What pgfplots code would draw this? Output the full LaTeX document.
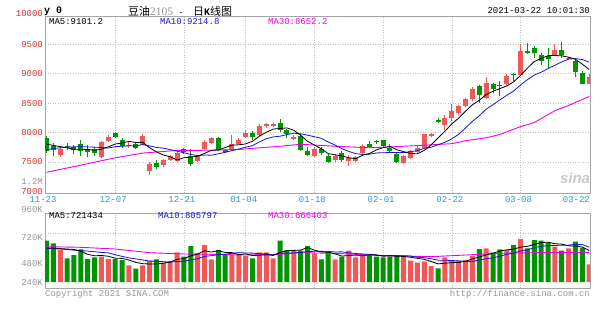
\documentclass[border=0pt]{standalone}
\usepackage{fontspec}
\usepackage{pgfplots}
\usepackage{pgfplotstable}
\pgfplotsset{compat=1.18}
\setmainfont{Liberation Sans}
\newfontfamily\mono{Liberation Mono}
\newfontfamily\cjk{Noto Sans CJK SC}
\newfontfamily\serif{Liberation Serif}
\newcommand{\tf}{\mono\fontsize{9}{10}\selectfont}
\definecolor{cred}{RGB}{240,88,88}
\definecolor{cgreen}{RGB}{0,148,0}
\definecolor{framegray}{RGB}{165,165,165}
\definecolor{gridgray}{RGB}{195,195,195}
\definecolor{pricered}{RGB}{215,45,45}
\definecolor{xblue}{RGB}{50,150,205}
\definecolor{volgray}{RGB}{150,150,150}
\definecolor{ma10}{RGB}{20,20,210}
\definecolor{ma30}{RGB}{235,0,235}

\pgfplotstableread{
i O H L C
2 7625 7756 7585 7720
8 7585 7850 7570 7841
9 7860 7950 7840 7920
12 7766 7830 7740 7795
14 7795 7966 7780 7937
15 7340 7494 7283 7466
17 7454 7550 7420 7528
18 7540 7620 7520 7596
19 7510 7710 7490 7653
22 7510 7620 7500 7596
23 7722 7870 7710 7841
24 7824 7930 7810 7910
27 7710 7950 7680 7807
28 7812 7900 7800 7870
29 7926 8050 7910 7983
31 7950 8150 7930 8107
32 8107 8165 8080 8136
33 8118 8160 8090 8136
36 7895 7960 7870 7925
39 7608 7750 7585 7722
42 7530 7630 7500 7608
44 7510 7625 7426 7568
45 7510 7600 7490 7580
46 7653 7800 7640 7778
52 7483 7610 7470 7596
53 7568 7710 7550 7682
54 7665 7770 7640 7740
55 7740 7980 7720 7966
56 7945 7990 7920 7966
58 8120 8290 8050 8250
59 8250 8480 8200 8363
60 8324 8460 8300 8449
61 8449 8590 8430 8563
62 8575 8780 8540 8734
64 8592 8950 8575 8848
67 8820 8990 8800 8960
69 8980 9500 8960 9390
74 9320 9500 9300 9400
76 9245 9280 9230 9262
79 8830 9000 8820 8945
}\upT

\pgfplotstableread{
i O H L C
0 7910 7940 7655 7680
1 7778 7824 7596 7698
3 7778 7824 7710 7756
4 7756 7795 7640 7710
5 7807 7869 7596 7693
6 7722 7790 7590 7676
7 7722 7760 7600 7654
10 7983 8010 7910 7926
11 7880 7910 7740 7766
13 7807 7830 7720 7740
16 7483 7528 7380 7415
20 7722 7740 7640 7665
21 7596 7722 7426 7471
25 7910 7920 7680 7698
26 7700 7720 7650 7670
30 7994 8030 7880 7926
34 8153 8222 8005 8040
35 8040 8060 7900 7966
37 7937 7966 7680 7710
38 7680 7750 7600 7625
40 7722 7750 7610 7653
41 7596 7630 7480 7494
43 7653 7680 7500 7528
47 7807 7850 7740 7756
48 7860 7880 7800 7835
49 7864 7880 7750 7766
50 7740 7800 7650 7680
51 7642 7670 7480 7494
57 8205 8240 8160 8185
63 8790 8800 8506 8630
65 8820 8850 8680 8734
66 8815 8875 8620 8790
68 9000 9020 8875 8980
70 9390 9530 9330 9345
71 9435 9472 9275 9360
72 9320 9360 9150 9217
73 9300 9445 9100 9245
75 9400 9540 9275 9320
77 9217 9230 8945 9036
78 9020 9050 8820 8830
}\downT

\pgfplotstableread{
i m5 m10 v5 v10
0 7800 7710 750 740
1 7780 7725 745 735
2 7760 7740 735 725
3 7740 7750 725 715
4 7713 7755 716 700
5 7715 7760 678 690
6 7711 7755 609 680
7 7698 7750 577 665
8 7715 7745 584 650
9 7757 7735 566 641
10 7803 7759 524 601
11 7821 7766 519 564
12 7850 7774 484 530
13 7829 7772 431 508
14 7833 7795 403 485
15 7741 7772 396 460
16 7671 7746 399 459
17 7617 7733 411 447
18 7588 7709 441 436
19 7532 7682 499 451
20 7571 7656 516 456
21 7583 7627 575 487
22 7596 7607 616 513
23 7645 7617 689 565
24 7697 7614 659 579
25 7703 7637 688 602
26 7743 7663 651 613
27 7785 7691 647 632
28 7791 7718 603 646
29 7806 7751 618 638
30 7851 7777 581 635
31 7939 7841 590 621
32 8004 7895 599 623
33 8058 7924 584 594
34 8069 7937 651 635
35 8077 7964 688 635
36 8038 7988 695 643
37 7952 7978 702 651
38 7850 7954 757 670
39 7787 7928 701 676
40 7724 7901 660 674
41 7641 7839 656 675
42 7620 7786 618 660
43 7601 7726 571 664
44 7570 7678 582 642
45 7556 7640 591 626
46 7612 7627 579 618
47 7642 7631 598 608
48 7703 7652 598 585
49 7743 7656 569 576
50 7763 7659 572 582
51 7706 7659 569 574
52 7674 7658 562 580
53 7644 7675 544 571
54 7638 7692 520 545
55 7696 7731 498 535
56 7790 7750 450 510
57 7909 7793 399 480
58 8022 7833 414 479
59 8147 7893 425 473
60 8244 7970 430 464
61 8363 8077 456 453
62 8472 8190 510 455
63 8548 8285 547 480
64 8645 8396 598 512
65 8702 8473 634 532
66 8747 8555 681 568
67 8792 8632 707 609
68 8862 8705 725 636
69 8971 8808 766 682
70 9093 8897 785 709
71 9207 8977 826 753
72 9258 9025 867 787
73 9307 9087 877 801
74 9309 9142 843 804
75 9304 9201 833 809
76 9281 9248 796 811
77 9245 9256 792 829
78 9162 9241 770 823
79 9071 9196 692 768
}\maT

\pgfplotstableread{
i V
2 704
8 557
9 506
12 367
14 367
15 469
17 425
18 447
19 653
22 631
23 814
24 499
27 609
28 594
29 572
31 653
32 653
33 521
36 689
39 631
42 499
44 689
45 543
46 609
52 557
53 469
54 425
55 447
56 352
58 543
59 484
60 469
61 484
62 572
64 741
67 704
69 946
74 777
76 741
79 389
}\volUp

\pgfplotstableread{
i V
0 909
1 851
3 521
4 594
5 719
6 506
7 543
10 506
11 484
13 293
16 499
20 557
21 792
25 704
26 609
30 521
34 909
35 704
37 689
38 792
40 499
41 667
43 557
47 594
48 557
49 543
50 557
51 594
57 301
63 726
65 645
66 719
68 814
70 741
71 924
72 909
73 865
75 689
77 887
78 755
}\volDown

\pgfplotsset{sinabase/.style={
  scale only axis, width=545.1bp,
  xmin=-0.22, xmax=79.13,
  axis line style={draw=framegray, line width=0.8bp},
  tick style={draw=none}, major tick length=0pt,
  grid style={gridgray, dash pattern=on 1bp off 1.5bp, line width=0.6bp},
  xmajorgrids, ymajorgrids,
  xtick={10,20,29,39,49,59,69},
  clip mode=individual,
  yticklabel style={anchor=east, inner sep=0pt, xshift=-2bp},
  extra y tick style={grid=none},
},
candle/.style 2 args={draw=none, fill=none, mark=none,
  error bars/.cd, y dir=plus, y explicit, error mark=none,
  error bar style={line width=#1, line cap=butt, draw=#2}},
}

\begin{document}
\begin{tikzpicture}[x=1bp,y=1bp]
\path[use as bounding box] (0,0) rectangle (600,327);

% ---------- price panel ----------
\begin{axis}[sinabase,
  at={(45bp,133.7bp)}, anchor=south west, height=176.6bp,
  ymin=6966, ymax=9969,
  ytick={7500,8000,8500,9000,9500},
  yticklabels={7500,8000,8500,9000,9500},
  extra y ticks={7000}, extra y tick labels={7000},
  yticklabel style={font=\tf, text=pricered},
  xticklabels={12-07,12-21,01-04,01-18,02-01,02-22,03-08},
  xticklabel style={font=\tf, text=xblue, anchor=north, inner sep=0pt, yshift=-3bp, xshift=-2bp},
]
% wicks
\addplot[candle={1bp}{cred}]
  table[x=i, y=L, y error plus expr=\thisrow{H}-\thisrow{L}] {\upT};
\addplot[candle={1bp}{cgreen}]
  table[x=i, y=L, y error plus expr=\thisrow{H}-\thisrow{L}] {\downT};
% bodies
\addplot[candle={5bp}{cred}]
  table[x=i, y=O, y error plus expr=\thisrow{C}-\thisrow{O}] {\upT};
\addplot[candle={5bp}{cgreen}]
  table[x=i, y=C, y error plus expr=\thisrow{O}-\thisrow{C}] {\downT};
% moving averages
\addplot[ma30, line width=0.9bp, mark=none] coordinates {
(0,7323) (5,7445) (10,7570) (14,7650) (19,7695) (24,7698) (28,7712) (34,7766) (37,7800)
(42,7766) (47,7740) (51,7760) (56,7790) (59,7810) (61,7860) (64,7910) (66,7966) (69,8100)
(71,8170) (74,8370) (76,8460) (79,8614)};
\addplot[ma10, line width=0.8bp, mark=none] table[x=i, y=m10] {\maT};
\addplot[black, line width=0.8bp, mark=none] table[x=i, y=m5] {\maT};
\end{axis}

% ---------- volume panel ----------
\begin{axis}[sinabase,
  at={(45bp,39bp)}, anchor=south west, height=75bp,
  ymin=-132, ymax=1518,
  ytick={462,1071}, yticklabels={},
  extra y ticks={-15,396,975}, extra y tick labels={240K,480K,720K},
  yticklabel style={font=\tf, text=volgray},
  xticklabels={},
]
\addplot[ybar, bar width=5bp, bar shift=0pt, fill=cred, draw=none] table[x=i, y=V] {\volUp};
\addplot[ybar, bar width=5bp, bar shift=0pt, fill=cgreen, draw=none] table[x=i, y=V] {\volDown};
\addplot[ma30, line width=0.9bp, mark=none] coordinates {
(0,777) (5,763) (10,726) (15,645) (20,616) (24,609) (29,594) (34,609) (37,645) (42,631)
(47,594) (52,572) (56,557) (61,594) (66,631) (71,645) (79,653)};
\addplot[ma10, line width=0.8bp, mark=none] table[x=i, y=v10] {\maT};
\addplot[black, line width=0.8bp, mark=none] table[x=i, y=v5] {\maT};
\end{axis}

% ---------- texts ----------
\node[anchor=west, inner sep=0pt] at (44,316) {\mono\bfseries\fontsize{10}{10}\selectfont y 0};
\node[anchor=west, inner sep=0pt] at (128,316) {{\cjk\fontsize{11}{11}\selectfont 豆油}{\serif\fontsize{11.5}{11}\selectfont\color{volgray}2105}{\tf\ -\ }\hspace{4bp}{\cjk\fontsize{11}{11}\selectfont 日}{\mono\bfseries\fontsize{10}{10}\selectfont K}{\cjk\fontsize{11}{11}\selectfont 线图}};
\node[anchor=east, inner sep=0pt] at (590,316) {\tf 2021-03-22 10:01:30};

\node[anchor=east, inner sep=0pt, text=pricered] at (43,313) {\tf 10000};
\node[anchor=east, inner sep=0pt, text=volgray] at (43,145.3) {\tf 1.2M};
\node[anchor=east, inner sep=0pt, text=volgray] at (43,117) {\tf 960K};

\node[anchor=west, inner sep=0pt] at (49,305) {\tf MA5:9101.2};
\node[anchor=west, inner sep=0pt, text=ma10] at (160,305) {\tf MA10:9214.8};
\node[anchor=west, inner sep=0pt, text=ma30] at (268,305) {\tf MA30:8652.2};

\node[anchor=west, inner sep=0pt] at (49,111) {\tf MA5:721434};
\node[anchor=west, inner sep=0pt, text=ma10] at (158,111) {\tf MA10:805797};
\node[anchor=west, inner sep=0pt, text=ma30] at (268,111) {\tf MA30:666403};

\node[anchor=center, inner sep=0pt, text=xblue] at (43,127) {\tf 11-23};
\node[anchor=east, inner sep=0pt, text=xblue] at (590,127) {\tf 03-22};

\node[anchor=west, inner sep=0pt, text=volgray] at (45,33) {\tf Copyright 2021 SINA.COM};
\node[anchor=east, inner sep=0pt, text=volgray] at (590,33) {\tf http://finance.sina.com.cn};

\node[anchor=center, inner sep=0pt, text=black!22] at (575,149) {\fontsize{15}{15}\selectfont\bfseries\itshape sina};
\end{tikzpicture}
\end{document}
